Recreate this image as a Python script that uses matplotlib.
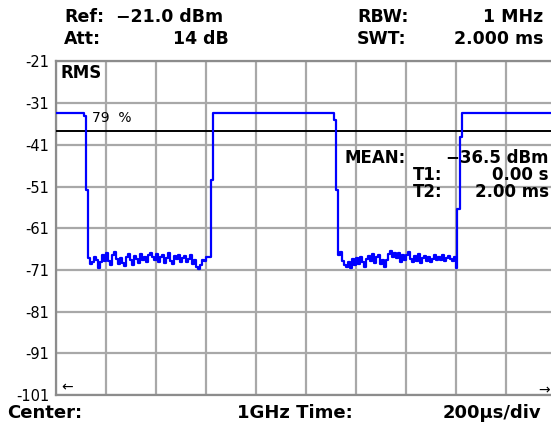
import matplotlib
matplotlib.use('Agg')
import matplotlib.pyplot as plt
import numpy as np

W, H = 551, 426

# y axis (dBm), 10 dB/div, ref level -21 dBm
y_ticks = [-21, -31, -41, -51, -61, -71, -81, -91, -101]
y_tick_labels = ['-21', '-31', '-41', '-51', '-61', '-71', '-81', '-91', '-101']
# x axis: 10 div x 200 us
x_grid_us = [0, 200, 400, 600, 800, 1000, 1200, 1400, 1600, 1800, 2000]

threshold_db = -37.6

# burst edges (time in us, level in dBm)
fall1_t = [0, 112, 120]
fall1_db = [-33.3, -34.0, -51.8]
rise1_t = [620, 626, 1112, 1120]
rise1_db = [-49.4, -33.3, -35.0, -51.8]
rise2_t = [1604, 1616, 1624, 2000]
rise2_db = [-56.5, -39.0, -33.3, -33.3]

# noise floor between the bursts (8 us sample spacing)
noise1_start, noise2_start, noise_step = 128, 1128, 8
noise1_db = [-68.2, -69.5, -69.0, -67.8, -68.5, -70.6, -69.2, -67.5, -68.8, -67.0,
             -68.9, -69.8, -67.3, -66.8, -68.4, -69.6, -68.1, -69.3, -70.1, -68.0,
             -67.2, -68.7, -69.9, -67.6, -68.3, -69.4, -67.1, -68.6, -67.9, -69.0,
             -67.4, -66.9, -67.8, -68.5, -67.2, -69.1, -68.0, -67.5, -69.3, -68.2,
             -67.0, -68.8, -69.6, -67.7, -68.4, -67.3, -69.2, -68.1, -67.6, -69.0,
             -68.3, -67.4, -69.5, -68.6, -70.4, -70.8, -69.7, -68.5, -68.9, -67.8,
             -68.0]
noise2_db = [-67.5, -66.8, -68.9, -69.8, -70.3, -69.1, -70.5, -68.4, -69.7, -68.2,
             -69.5, -67.9, -69.0, -70.4, -68.3, -67.6, -68.8, -67.2, -69.3, -68.0,
             -67.4, -69.6, -68.5, -70.2, -68.7, -67.1, -66.4, -67.8, -66.9, -68.2,
             -67.0, -69.1, -67.5, -68.6, -67.3, -66.7, -68.4, -69.0, -67.7, -68.9,
             -67.2, -69.4, -68.1, -67.6, -68.8, -67.9, -69.2, -68.3, -67.4, -68.7,
             -67.8, -68.5, -67.3, -68.9, -68.1, -67.6, -68.4, -68.8, -67.9, -70.6]

noise1_t = noise1_start + noise_step * np.arange(len(noise1_db))
noise2_t = noise2_start + noise_step * np.arange(len(noise2_db))

trace_t = np.concatenate([fall1_t, noise1_t, rise1_t, noise2_t, rise2_t])
trace_db = np.concatenate([fall1_db, noise1_db, rise1_db, noise2_db, rise2_db])

plt.rcParams['font.family'] = ['DejaVu Sans']

fig = plt.figure(figsize=(W / 100, H / 100), dpi=100)
fig.patch.set_facecolor('white')
ax = fig.add_axes([56 / W, (H - 395) / H, 500 / W, 333.5 / H])

ax.set_xlim(0, 2000)
ax.set_ylim(-101, -21)
ax.set_xticks(x_grid_us)
ax.set_xticklabels([])
ax.set_yticks(y_ticks)
ax.set_yticklabels(y_tick_labels, fontsize=10.5)
ax.tick_params(length=0, pad=5)
ax.grid(True, color='#a8a8a8', linewidth=1.6)
for s in ax.spines.values():
    s.set_color('#8c8c8c')
    s.set_linewidth(1.6)

ax.axhline(threshold_db, color='black', linewidth=1.4, zorder=3)
ax.plot(trace_t, trace_db, drawstyle='steps-post', color='#0000ff', linewidth=1.6, zorder=4)


def px(x, y):
    return x / W, 1 - y / H


hdr = dict(fontsize=12.5, fontweight='bold', va='center')
ftr = dict(fontsize=13, fontweight='bold', va='center')
mrk = dict(fontsize=12, fontweight='bold', va='center')

fig.text(*px(64, 17), 'Ref:', ha='left', **hdr)
fig.text(*px(223, 17), '\u221221.0 dBm', ha='right', **hdr)
fig.text(*px(64, 39), 'Att:', ha='left', **hdr)
fig.text(*px(229, 39), '14 dB', ha='right', **hdr)
fig.text(*px(357, 17), 'RBW:', ha='left', **hdr)
fig.text(*px(543, 17), '1 MHz', ha='right', **hdr)
fig.text(*px(357, 39), 'SWT:', ha='left', **hdr)
fig.text(*px(543, 39), '2.000 ms', ha='right', **hdr)

fig.text(*px(7, 413), 'Center:', ha='left', **ftr)
fig.text(*px(237, 413), '1GHz Time:', ha='left', **ftr)
fig.text(*px(541, 413), '200\u00b5s/div', ha='right', **ftr)

fig.text(*px(61, 73), 'RMS', ha='left', **mrk)
fig.text(*px(92, 118), '79  %', ha='left', va='center', fontsize=10)
fig.text(*px(345, 158), 'MEAN:', ha='left', **mrk)
fig.text(*px(549, 158), '\u221236.5 dBm', ha='right', **mrk)
fig.text(*px(413, 175), 'T1:', ha='left', **mrk)
fig.text(*px(549, 175), '0.00 s', ha='right', **mrk)
fig.text(*px(413, 192), 'T2:', ha='left', **mrk)
fig.text(*px(549, 192), '2.00 ms', ha='right', **mrk)

fig.text(*px(61, 387), '\u2190', ha='left', va='center', fontsize=10)
fig.text(*px(550, 390), '\u2192', ha='right', va='center', fontsize=10)

fig.savefig('out.png', dpi=100)
